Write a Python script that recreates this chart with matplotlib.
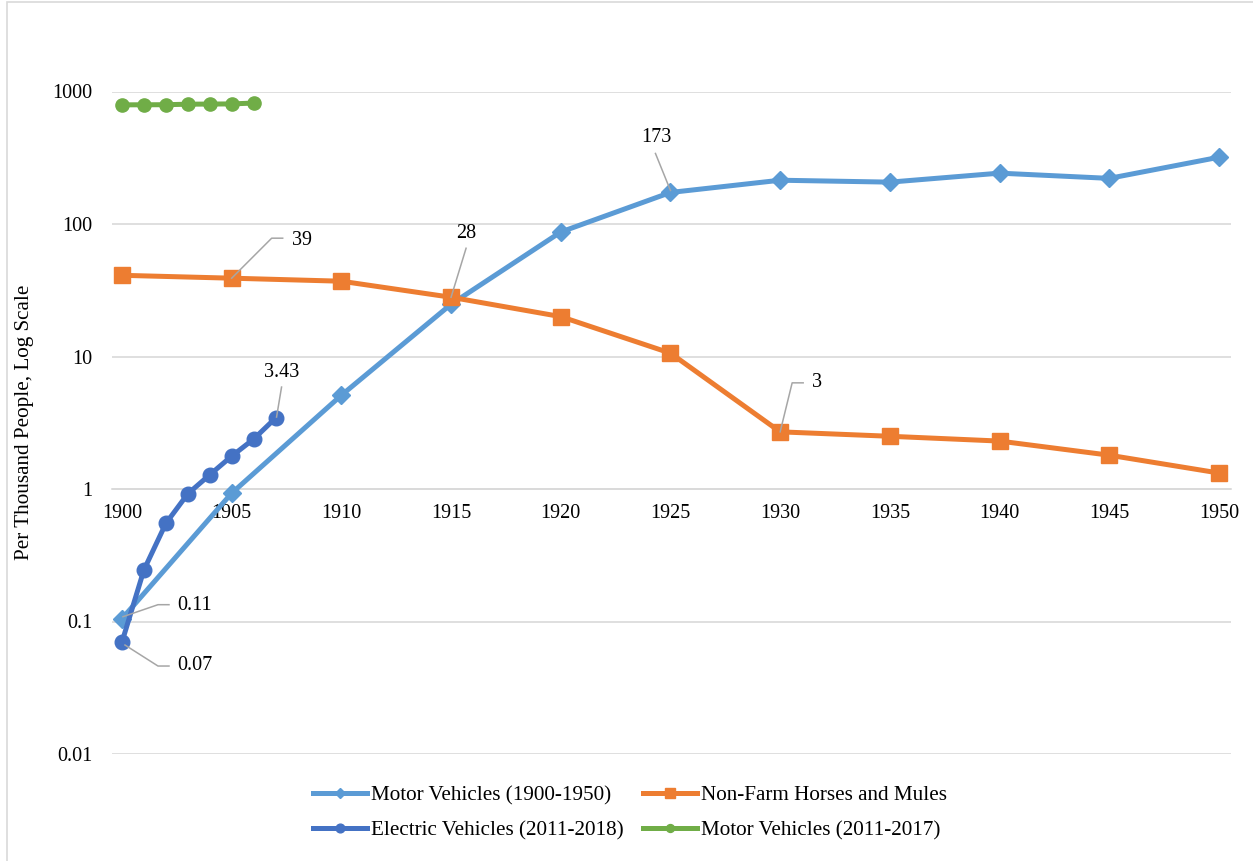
import numpy as np
import matplotlib
matplotlib.use("Agg")
import matplotlib.pyplot as plt
from matplotlib.patches import Rectangle
from matplotlib.transforms import Affine2D, ScaledTranslation

plt.rcParams["font.family"] = ["Liberation Serif", "DejaVu Serif"]

# data
years_5 = [1900, 1905, 1910, 1915, 1920, 1925, 1930, 1935, 1940, 1945, 1950]
motor_1900 = [0.105, 0.93, 5.1, 24.8, 87, 173, 214, 207, 242, 221, 319]
horses = [41, 39, 37, 28, 20, 10.6, 2.7, 2.5, 2.3, 1.8, 1.32]
ev_x = [1900, 1901, 1902, 1903, 1904, 1905, 1906, 1907]
ev = [0.07, 0.245, 0.55, 0.92, 1.28, 1.77, 2.38, 3.43]
mv_x = [1900, 1901, 1902, 1903, 1904, 1905, 1906]
mv_2011 = [793, 794, 795, 802, 804, 806, 818]

yticks = [0.01, 0.1, 1, 10, 100, 1000]
ytick_labels = ["0.01", "0.1", "1", "10", "100", "1000"]
xticks = years_5
xtick_labels = [str(y) for y in years_5]

C_MOTOR = "#5B9BD5"
C_HORSE = "#ED7D31"
C_EV = "#4472C4"
C_MV = "#70AD47"
C_GRID = "#d9d9d9"
C_LEAD = "#a6a6a6"

FS = 14.5

fig = plt.figure(figsize=(12.53, 8.61), dpi=100)
ax = fig.add_axes([112 / 1253, 1 - 754 / 861, (1231 - 112) / 1253, (754 - 91.5) / 861])

# outer chart border (runs off the right and bottom edge)
fig.patches.append(Rectangle((7 / 1253, -0.1), 1.2, 1 - 2 / 861 + 0.1,
                             transform=fig.transFigure, fill=False,
                             edgecolor=C_GRID, linewidth=1.2))

ax.set_yscale("log")
ax.set_ylim(0.01, 1000)
ax.set_xlim(1899.545, 1950.55)

l_motor, = ax.plot(years_5, motor_1900, color=C_MOTOR, lw=3.6, marker="D", ms=9,
                   label="Motor Vehicles (1900-1950)", zorder=3)
l_horse, = ax.plot(years_5, horses, color=C_HORSE, lw=3.6, marker="s", ms=12,
                   label="Non-Farm Horses and Mules", zorder=3)
l_ev, = ax.plot(ev_x, ev, color=C_EV, lw=3.6, marker="o", ms=10.5,
                label="Electric Vehicles (2011-2018)", zorder=4)
l_mv, = ax.plot(mv_x, mv_2011, color=C_MV, lw=3.6, marker="o", ms=9.5,
                label="Motor Vehicles (2011-2017)", zorder=4)

ax.set_yticks(yticks)
ax.set_yticklabels(ytick_labels)
ax.yaxis.set_minor_locator(plt.NullLocator())
ax.set_xticks(xticks)
ax.set_xticklabels(xtick_labels)
ax.tick_params(axis="both", length=0, labelsize=FS)
ax.tick_params(axis="x", pad=11)
ax.tick_params(axis="y", pad=14)
ax.grid(axis="y", color=C_GRID, lw=1.2)
ax.set_axisbelow(True)

for s in ["top", "right", "left"]:
    ax.spines[s].set_visible(False)
ax.spines["bottom"].set_position(("data", 1))
ax.spines["bottom"].set_color(C_GRID)
ax.spines["bottom"].set_linewidth(1.2)

ax.set_ylabel("Per Thousand People, Log Scale", fontsize=15.2)
ax.yaxis.set_label_coords((34 - 112) / 1119, 0.5)


def label(x, y, text, path, txt_off, ha="center"):
    # leader line in pixel offsets from the point (y down like the screen)
    tr = Affine2D().scale(1, -1) + ScaledTranslation(x, y, ax.transData)
    px, py = zip(*path)
    ax.plot(px, py, color=C_LEAD, lw=1.1, transform=tr, zorder=5)
    ax.annotate(text, xy=(x, y), xytext=(txt_off[0], -txt_off[1]),
                textcoords="offset pixels", ha=ha, va="center", fontsize=FS,
                zorder=6)


label(1925, 173, "173", [(-15, -39), (0, -2)], (-14, -55))
label(1915, 28, "28", [(0, 0), (15, -49)], (15, -64))
label(1905, 39, "39", [(0, 0), (40, -40), (51, -40)], (60, -38), ha="left")
label(1907, 3.43, "3.43", [(1, -1), (6, -31)], (6, -46))
label(1930, 2.7, "3", [(0, 0), (12, -49), (23, -49)], (32, -49), ha="left")
label(1900, 0.105, "0.11", [(1, -2), (36, -14), (47, -14)], (55, -13), ha="left")
label(1900, 0.07, "0.07", [(3, 3), (36, 24), (47, 24)], (55, 23), ha="left")

fig.legend(handles=[l_motor, l_ev, l_horse, l_mv], loc="center",
           bbox_to_anchor=(0.503, 1 - 813 / 861), ncol=2, frameon=False,
           fontsize=15.2, handlelength=2.55, handletextpad=0.2,
           columnspacing=0.9, labelspacing=0.75, markerscale=0.6)

fig.savefig("out.png", dpi=100)
